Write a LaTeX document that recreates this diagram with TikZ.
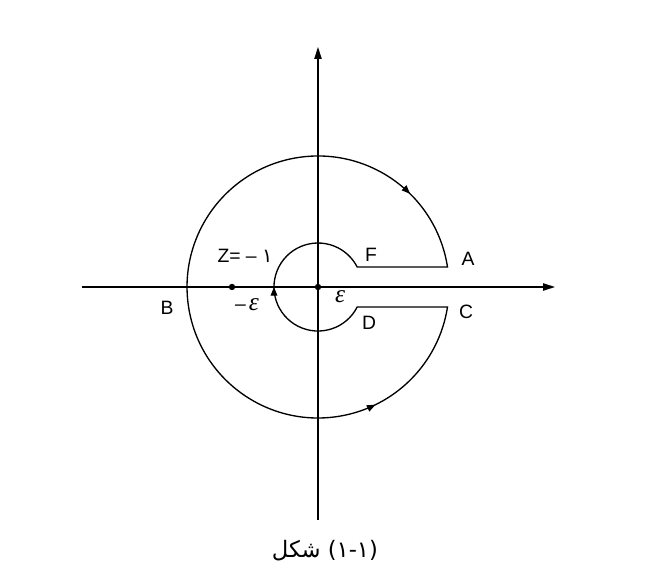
\documentclass[tikz,border=0pt]{standalone}
\usepackage{fontspec}
\setmainfont{Liberation Sans}
\newfontfamily\arabicfont[Script=Arabic]{DejaVu Sans}
\newfontfamily\epsfont{Liberation Serif}
\TeXXeTstate=1
\usetikzlibrary{arrows.meta,decorations.markings}

\begin{document}
\begin{tikzpicture}[x=0.75pt,y=0.75pt,
    axis/.style={line width=1pt,-{Triangle[length=9pt,width=5.5pt]}},
    contour/.style={line width=1pt,postaction={decorate},
        decoration={markings,
            mark=at position 0.0697 with {\arrowreversed{Triangle[length=6.5pt,width=5pt]}},
            mark=at position 0.548 with {\arrow{Triangle[length=6.5pt,width=5pt]}},
            mark=at position 0.8266 with {\arrow{Triangle[length=6.5pt,width=5pt]}}}},
    lbl/.style={font=\fontsize{14.5}{16}\selectfont,inner sep=1pt},
    eps/.style={font=\fontsize{19}{20}\epsfont\itshape,inner sep=1pt}]
            \useasboundingbox (-318,-298) rectangle (343,287);
            % axes
            \coordinate (xl) at (-236,0);
            \coordinate (xr) at (237,0);
            \coordinate (yb) at (0,-233);
            \coordinate (yt) at (0,240);
            \draw[axis] (xl) -- (xr);
            \draw[axis] (yb) -- (yt);
            % keyhole contour
            \coordinate (pA) at (129.5,20);
            \coordinate (pD) at (39.2,-20);
            \draw[contour] (pA) arc[start angle=8.78,end angle=351.22,radius=131]
                -- (pD) arc[start angle=-27,end angle=-333,radius=44] -- cycle;
            \fill (0,0) circle (3.2);
            \fill (-86,0) circle (3.2);
            % labels
            \node[lbl] (z) at (-73,31) {Z= -- {\arabicfont ۱}};
            \node[lbl] (B) at (-151,-21) {B};
            \node[eps] (meps) at (-71,-18) {{\fontsize{14.5}{16}\selectfont\rmfamily --\,}ε};
            \node[eps] (eps) at (22,-10) {ε};
            \node[lbl] (F) at (53,32) {F};
            \node[lbl] (A) at (150,28) {A};
            \node[lbl] (C) at (148,-25) {C};
            \node[lbl] (D) at (51,-36) {D};
            \node[font=\fontsize{17}{19}\selectfont] (cap) at (7,-264) {\arabicfont\beginR شکل\endR{} (۱-۱)};
        \end{tikzpicture}
\end{document}
